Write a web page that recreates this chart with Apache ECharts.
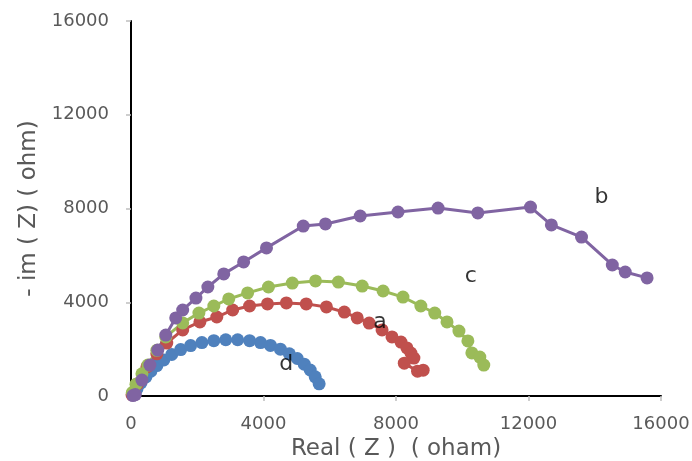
<!DOCTYPE html>
<html>
<head>
<meta charset="utf-8">
<script src="https://cdn.jsdelivr.net/npm/echarts@6/dist/echarts.min.js"></script>
<style>
  html, body { margin: 0; padding: 0; background: #fff; }
  #nyquist { width: 692px; height: 461px; }
</style>
</head>
<body>
<div id="nyquist"></div>
<script>
// curve d (blue)
const dReal = [60, 180, 300, 450, 600, 780, 990, 1230, 1500, 1800, 2140, 2500, 2860, 3220, 3580, 3910, 4210, 4510, 4780, 5020, 5230, 5410, 5560, 5680];
const dImag = [90, 300, 560, 810, 1060, 1300, 1540, 1770, 1980, 2150, 2280, 2360, 2400, 2400, 2360, 2280, 2160, 2000, 1800, 1600, 1360, 1110, 820, 520];
// curve a (red)
const aReal = [30, 200, 480, 780, 1080, 1560, 2080, 2590, 3070, 3580, 4120, 4690, 5290, 5900, 6440, 6830, 7190, 7580, 7880, 8150, 8330, 8450, 8540, 8250, 8650, 8820];
const aImag = [50, 520, 1240, 1800, 2260, 2820, 3160, 3370, 3670, 3840, 3930, 3970, 3930, 3800, 3580, 3330, 3110, 2820, 2520, 2300, 2050, 1830, 1620, 1400, 1060, 1100];
// curve c (green)
const cReal = [40, 150, 330, 510, 780, 1050, 1560, 2050, 2500, 2950, 3520, 4150, 4870, 5570, 6260, 6980, 7610, 8210, 8750, 9170, 9540, 9900, 10170, 10290, 10530, 10650];
const cImag = [150, 500, 950, 1320, 1950, 2520, 3120, 3540, 3840, 4140, 4400, 4650, 4820, 4910, 4860, 4690, 4480, 4220, 3840, 3540, 3160, 2770, 2350, 1840, 1660, 1320];
// curve b (purple)
const bReal = [60, 130, 330, 570, 810, 1050, 1350, 1560, 1960, 2320, 2800, 3400, 4090, 5200, 5870, 6920, 8060, 9270, 10470, 12060, 12690, 13600, 14530, 14920, 15580];
const bImag = [20, 60, 680, 1320, 1960, 2600, 3330, 3670, 4180, 4650, 5210, 5720, 6320, 7250, 7340, 7680, 7850, 8020, 7810, 8060, 7300, 6780, 5590, 5290, 5040];

// curve letters
const tagNames = ["a", "b", "c", "d"];
const tagReal = [7520, 14200, 10260, 4690];
const tagImag = [3160, 8490, 5120, 1370];

const font = "DejaVu Sans";
const pairs = (xs, ys) => xs.map((x, i) => [x, ys[i]]);

const chart = echarts.init(document.getElementById("nyquist"));

const curve = (name, xs, ys, color) => ({
  name: name,
  type: "line",
  data: pairs(xs, ys),
  symbol: "circle",
  symbolSize: 13,
  color: color,
  lineStyle: { width: 3, color: color },
  itemStyle: { color: color },
  silent: true,
});

const option = {
  animation: false,
  backgroundColor: "#fff",
  grid: { left: 131, right: 31, top: 21, bottom: 65, outerBoundsMode: "none", containLabel: false },
  xAxis: [
    {
      type: "value",
      min: 0,
      max: 16000,
      interval: 4000,
      axisLine: { show: true, lineStyle: { color: "#BFBFBF", width: 1.5 } },
      axisTick: { show: true, length: 5, lineStyle: { color: "#BFBFBF", width: 1.5 } },
      splitLine: { show: false },
      axisLabel: { color: "#595959", fontSize: 18, fontFamily: font, margin: 19, formatter: (v) => String(v) },
      name: "Real ( Z )  ( oham)",
      nameLocation: "middle",
      nameGap: 32,
      nameTextStyle: { color: "#595959", fontSize: 23, fontFamily: font },
    },
    {
      type: "value",
      position: "top",
      min: 0,
      max: 16000,
      axisLine: { show: true, lineStyle: { color: "#000", width: 2 } },
      axisTick: { show: false },
      axisLabel: { show: false },
      splitLine: { show: false },
    },
  ],
  yAxis: [
    {
      type: "value",
      min: 0,
      max: 16000,
      interval: 4000,
      axisLine: { show: true, lineStyle: { color: "#BFBFBF", width: 1.5 } },
      axisTick: { show: true, length: 5, lineStyle: { color: "#BFBFBF", width: 1.5 } },
      splitLine: { show: false },
      axisLabel: { color: "#595959", fontSize: 18, fontFamily: font, margin: 22, formatter: (v) => String(v) },
      name: "- im ( Z) ( ohm)",
      nameLocation: "middle",
      nameGap: 88,
      nameTextStyle: { color: "#595959", fontSize: 23, fontFamily: font },
    },
    {
      type: "value",
      position: "right",
      min: 0,
      max: 16000,
      axisLine: { show: true, lineStyle: { color: "#000", width: 2 } },
      axisTick: { show: false },
      axisLabel: { show: false },
      splitLine: { show: false },
    },
  ],
  series: [
    curve("d", dReal, dImag, "#4F81BD"),
    curve("a", aReal, aImag, "#C0504D"),
    curve("c", cReal, cImag, "#9BBB59"),
    curve("b", bReal, bImag, "#8064A2"),
    {
      name: "tags",
      type: "scatter",
      symbolSize: 1,
      itemStyle: { color: "rgba(0,0,0,0)" },
      silent: true,
      z: 5,
      data: tagNames.map((n, i) => ({ name: n, value: [tagReal[i], tagImag[i]] })),
      label: {
        show: true,
        position: "inside",
        formatter: "{b}",
        color: "#000",
        fontSize: 22,
        fontFamily: font,
      },
    },
  ],
};

chart.setOption(option);
</script>
</body>
</html>
